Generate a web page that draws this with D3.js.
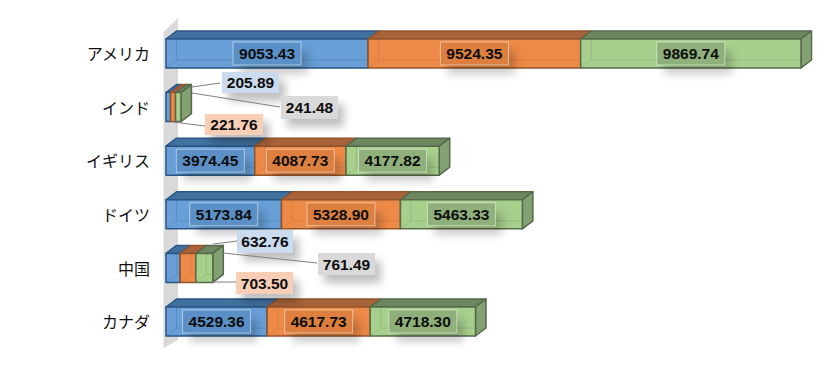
<!DOCTYPE html>
<html>
<head>
<meta charset="utf-8">
<script src="https://cdn.jsdelivr.net/npm/d3@7"></script>
<style>
  html, body { margin: 0; padding: 0; background: #fff; }
  svg { display: block; }
  .tick text { font-family: "Noto Sans CJK JP", sans-serif; font-size: 16px; fill: #111; }
  .value { font-family: "Liberation Sans", Arial, sans-serif; font-size: 15.5px; font-weight: bold; fill: #0d0d0d; }
</style>
</head>
<body>
<script>
const categories = ["アメリカ", "インド", "イギリス", "ドイツ", "中国", "カナダ"];
const seriesA = [9053.43, 205.89, 3974.45, 5173.84, 632.76, 4529.36];
const seriesB = [9524.35, 221.76, 4087.73, 5328.90, 703.50, 4617.73];
const seriesC = [9869.74, 241.48, 4177.82, 5463.33, 761.49, 4718.30];
const allSeries = [seriesA, seriesB, seriesC];

const front = ["#679fd6", "#ee8a47", "#a8d08d"];
const topFace = ["#41719f", "#a8633a", "#6d8761"];
const sideFace = ["#4f7eae", "#b9703f", "#83a273"];
const edge = ["#2a5685", "#94542a", "#566a4b"];
const inner = ["#5a90c6", "#dc7f3f", "#8fb07a"];
const calloutFill = ["#c9dbec", "#f8cfb6", "#d9d9d9"];

const width = 838, height = 366;
const depth = { x: 10.5, y: 8 };

// leader label boxes for the bars too short to hold a label
const callouts = {
  "インド": [
    { box: [222, 72, 57, 21], from: [192, 87], to: [220, 83] },
    { box: [205, 114, 58, 21], from: [173, 122], to: [205, 126] },
    { box: [281, 96, 57, 23], from: [192, 93], to: [280, 107] }
  ],
  "中国": [
    { box: [237, 230, 56, 23], from: [213, 244], to: [237, 241] },
    { box: [236, 272, 57, 22], from: [213, 282], to: [236, 282] },
    { box: [318, 253, 57, 22], from: [223, 253], to: [317, 263] }
  ]
};

const x = d3.scaleLinear().domain([0, d3.sum(allSeries, s => s[0])]).range([166, 801]);
const y = d3.scaleBand().domain(categories).range([39, 336]).paddingInner(0.459);

const svg = d3.select("body").append("svg").attr("width", width).attr("height", height);

const defs = svg.append("defs");
defs.append("filter").attr("id", "blur")
  .attr("x", "-30%").attr("y", "-60%").attr("width", "160%").attr("height", "220%")
  .append("feGaussianBlur").attr("stdDeviation", 4);

const line = d3.line();
const poly = pts => line(pts) + "Z";

// back wall
svg.append("path")
  .attr("d", poly([[163.5, 32], [178, 18], [178, 340], [163.5, 348]]))
  .attr("fill", "#d9d9d9");

svg.append("g")
  .attr("transform", "translate(166,1.5)")
  .call(d3.axisLeft(y).tickSize(0).tickPadding(16))
  .call(g => g.select(".domain").remove());

const bars = svg.append("g");
categories.forEach((cat, i) => {
  let start = 0;
  const yTop = y(cat), h = y.bandwidth();
  allSeries.forEach((s, j) => {
    const x0 = x(start), x1 = x(start + s[i]);
    const g = bars.append("g")
      .attr("stroke", edge[j]).attr("stroke-width", 1.5).attr("stroke-linejoin", "round");
    g.append("path")
      .attr("d", poly([[x0, yTop], [x0 + depth.x, yTop - depth.y], [x1 + depth.x, yTop - depth.y], [x1, yTop]]))
      .attr("fill", topFace[j]);
    if (j === 2) {
      g.append("path")
        .attr("d", poly([[x1, yTop], [x1 + depth.x, yTop - depth.y], [x1 + depth.x, yTop + h - depth.y], [x1, yTop + h]]))
        .attr("fill", sideFace[j]);
    }
    g.append("rect")
      .attr("x", x0).attr("y", yTop)
      .attr("width", x1 - x0).attr("height", h)
      .attr("fill", front[j]);
    // faint edges of the box seen through the front face
    if (x1 - x0 > depth.x) {
      g.append("path")
        .attr("d", `M${x0},${yTop + h}L${x0 + depth.x},${yTop + h - depth.y}L${x1},${yTop + h - depth.y}M${x0 + depth.x},${yTop}V${yTop + h - depth.y}`)
        .attr("fill", "none").attr("stroke", edge[j]).attr("stroke-width", 0.8).attr("stroke-opacity", 0.25);
    }
    start += s[i];
  });
});

const labels = svg.append("g");
categories.forEach((cat, i) => {
  let start = 0;
  const yMid = y(cat) + y.bandwidth() / 2;
  allSeries.forEach((s, j) => {
    const text = s[i].toFixed(2);
    if (callouts[cat]) {
      const c = callouts[cat][j];
      labels.append("path").attr("d", line([c.from, c.to]))
        .attr("fill", "none").attr("stroke", "#7f7f7f").attr("stroke-width", 1);
      labels.append("rect")
        .attr("x", c.box[0] + 6).attr("y", c.box[1] + 8).attr("width", c.box[2]).attr("height", c.box[3])
        .attr("fill", "#000").attr("opacity", 0.25).attr("filter", "url(#blur)");
      labels.append("rect")
        .attr("x", c.box[0]).attr("y", c.box[1]).attr("width", c.box[2]).attr("height", c.box[3])
        .attr("fill", calloutFill[j]);
      labels.append("text").attr("class", "value")
        .attr("x", c.box[0] + c.box[2] / 2).attr("y", c.box[1] + c.box[3] / 2)
        .attr("text-anchor", "middle").attr("dominant-baseline", "central")
        .text(text);
    } else {
      const cx = (x(start) + x(start + s[i])) / 2;
      const boxW = 68, boxH = 23;
      labels.append("rect")
        .attr("x", cx - boxW / 2 + 7).attr("y", yMid - boxH / 2 + 9).attr("width", boxW).attr("height", boxH)
        .attr("fill", "#000").attr("opacity", 0.2).attr("filter", "url(#blur)");
      labels.append("rect")
        .attr("x", cx - boxW / 2).attr("y", yMid - boxH / 2).attr("width", boxW).attr("height", boxH)
        .attr("fill", inner[j]).attr("stroke", "#fff").attr("stroke-opacity", 0.5).attr("stroke-width", 1);
      labels.append("text").attr("class", "value")
        .attr("x", cx).attr("y", yMid)
        .attr("text-anchor", "middle").attr("dominant-baseline", "central")
        .text(text);
    }
    start += s[i];
  });
});
</script>
</body>
</html>
